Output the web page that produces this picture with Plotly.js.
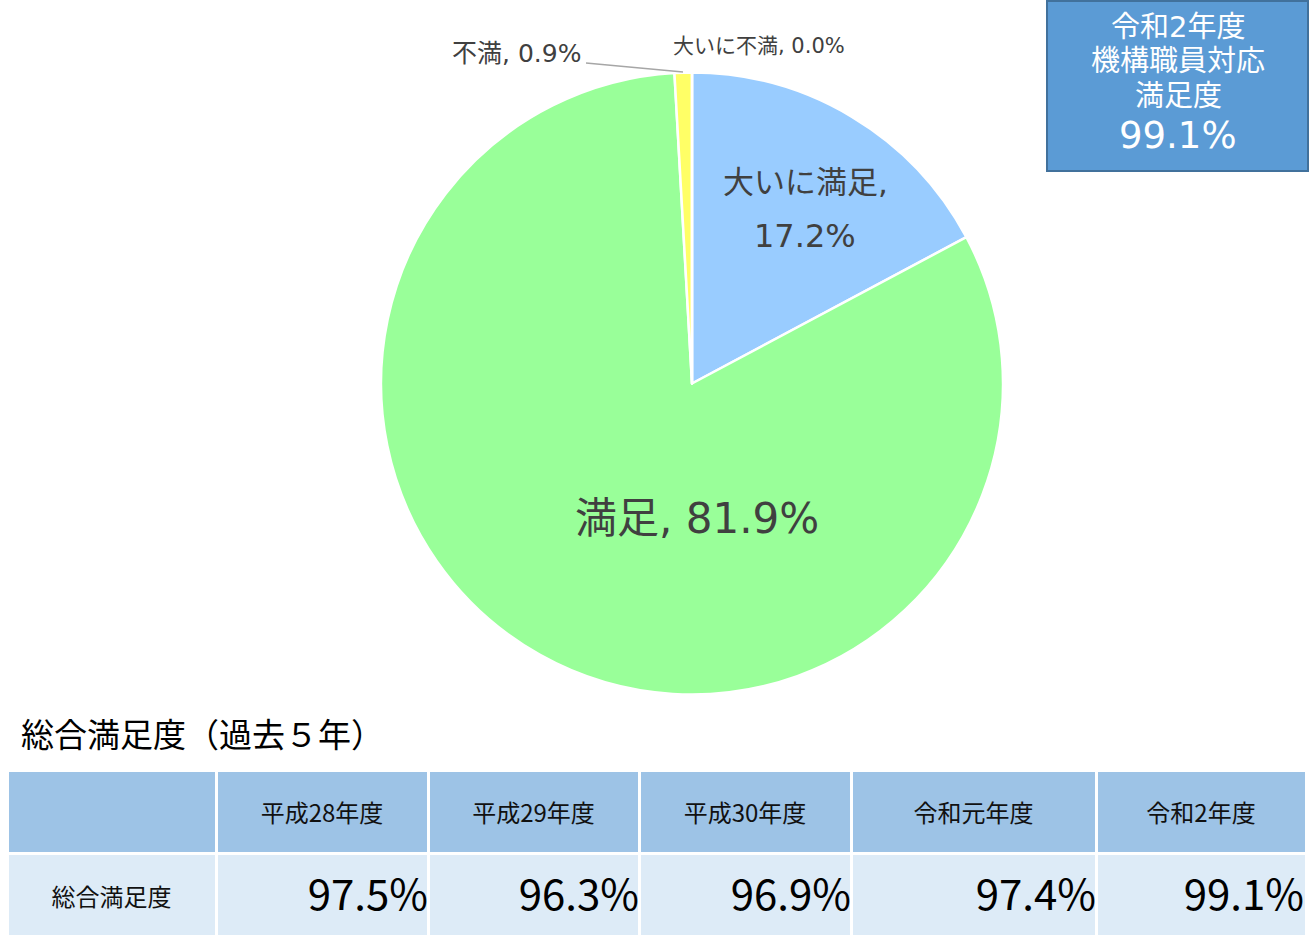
<!DOCTYPE html>
<html><head><meta charset="utf-8">
<script src="https://cdn.plot.ly/plotly-3.0.1.min.js"></script>
<style>body{margin:0;background:#fff}#c{width:1312px;height:941px}</style>
</head><body><div id="c"></div>
<script>
// ---- data ----
const pieLabels = ['大いに満足', '満足', '不満', '大いに不満'];
const pieValues = [17.2, 81.9, 0.9, 0.0];
const pieColors = ['#99CCFF', '#99FF99', '#FFFF66', '#FF9999'];

const years = ['平成28年度', '平成29年度', '平成30年度', '令和元年度', '令和2年度'];
const rowLabel = '総合満足度';
const yearValues = [97.5, 96.3, 96.9, 97.4, 99.1];

const boxTitle = ['令和2年度', '機構職員対応', '満足度'];
const boxValue = 99.1;
const tableTitle = '総合満足度（過去５年）';

// ---- helpers ----
const W = 1312, H = 941;
const px = x => x / W, py = y => 1 - y / H;
const CJK = '"Noto Sans CJK JP", "Noto Sans", sans-serif';
const MEI = '"DejaVu Sans", "Noto Sans CJK JP", sans-serif';
const pct = v => v.toFixed(1) + '%';
const padTop = (t, s) => (s ? '<span style="font-size:' + s + 'px"> </span>' : '') + '<br>' + t;

const pie = {
  type: 'pie', labels: pieLabels, values: pieValues, sort: false,
  direction: 'clockwise', rotation: 0,
  marker: {colors: pieColors, line: {color: '#ffffff', width: 2.5}},
  textinfo: 'none', hoverinfo: 'label+percent', showlegend: false,
  domain: {x: [px(381), px(1003)], y: [py(695), py(72)]}
};

const TOP = 770;
// table with fills, header and row label
const tableA = {
  type: 'table',
  domain: {x: [px(7), px(1306)], y: [py(TOP + 170), py(TOP)]},
  columnwidth: [209, 212, 211, 212, 245, 210],
  header: {
    values: [''].concat(years).map(h => h ? padTop(h, 11) : ''),
    fill: {color: '#9DC3E6'}, line: {color: '#ffffff', width: 3},
    align: 'center', height: 83,
    font: {family: CJK, size: 24, color: '#111'}
  },
  cells: {
    values: [[padTop(rowLabel, 12)]].concat(yearValues.map(() => [''])),
    fill: {color: '#DDEBF7'}, line: {color: '#ffffff', width: 3},
    align: 'center', height: 83,
    font: {family: CJK, size: 24, color: '#111'}
  }
};
// overlay table carrying the yearly values, right aligned to the cell edges
const clear = 'rgba(0,0,0,0)';
const tableB = {
  type: 'table',
  domain: {x: [px(15), px(1312)], y: [py(TOP + 170), py(TOP)]},
  columnwidth: [209, 212, 211, 212, 245, 208],
  header: {
    values: [''].concat(years.map(() => '')),
    fill: {color: clear}, line: {color: clear, width: 3}, height: 83,
    font: {family: CJK, size: 24, color: clear}
  },
  cells: {
    values: [['']].concat(yearValues.map(v => [padTop(pct(v), 0)])),
    fill: {color: clear}, line: {color: clear, width: 3},
    align: 'right', height: 83,
    font: {family: CJK, size: 42, color: '#000'}
  }
};

const A = (text, x, y, size, color, family, xa) => ({text, x: px(x), y: py(y), xref: 'paper', yref: 'paper',
  xanchor: xa || 'center', yanchor: 'middle', showarrow: false, font: {family: family || MEI, size, color}});

const ann = [
  A(pieLabels[0] + ',', 805, 182, 31, '#404040'),
  A(pct(pieValues[0]), 805, 236, 32, '#404040'),
  A(pieLabels[1] + ', ' + pct(pieValues[1]), 697, 518, 42, '#404040'),
  A(pieLabels[2] + ', ' + pct(pieValues[2]), 583, 53, 25, '#404040', MEI, 'right'),
  A(pieLabels[3] + ', ' + pct(pieValues[3]), 671, 46, 21, '#404040', MEI, 'left'),
  A(tableTitle, 19, 733, 33, '#000', CJK, 'left')
];
const boxY = [27, 61, 96];
boxTitle.forEach((t, i) => ann.push(A(t, 1178, boxY[i], 29, '#ffffff')));
ann.push(A(pct(boxValue), 1178, 135, 37, '#ffffff'));

const layout = {
  width: W, height: H, margin: {l: 0, r: 0, t: 0, b: 0},
  paper_bgcolor: '#ffffff', plot_bgcolor: '#ffffff',
  font: {family: CJK},
  annotations: ann,
  shapes: [
    {type: 'rect', xref: 'paper', yref: 'paper', x0: px(1047), x1: px(1308), y0: py(171), y1: py(1),
      fillcolor: '#5B9BD5', line: {color: '#41719C', width: 2}, layer: 'below'},
    {type: 'line', xref: 'paper', yref: 'paper', x0: px(586), y0: py(63), x1: px(683), y1: py(72),
      line: {color: '#A6A6A6', width: 1.5}}
  ]
};
Plotly.newPlot('c', [pie, tableA, tableB], layout, {displayModeBar: false, staticPlot: true});
</script></body></html>
